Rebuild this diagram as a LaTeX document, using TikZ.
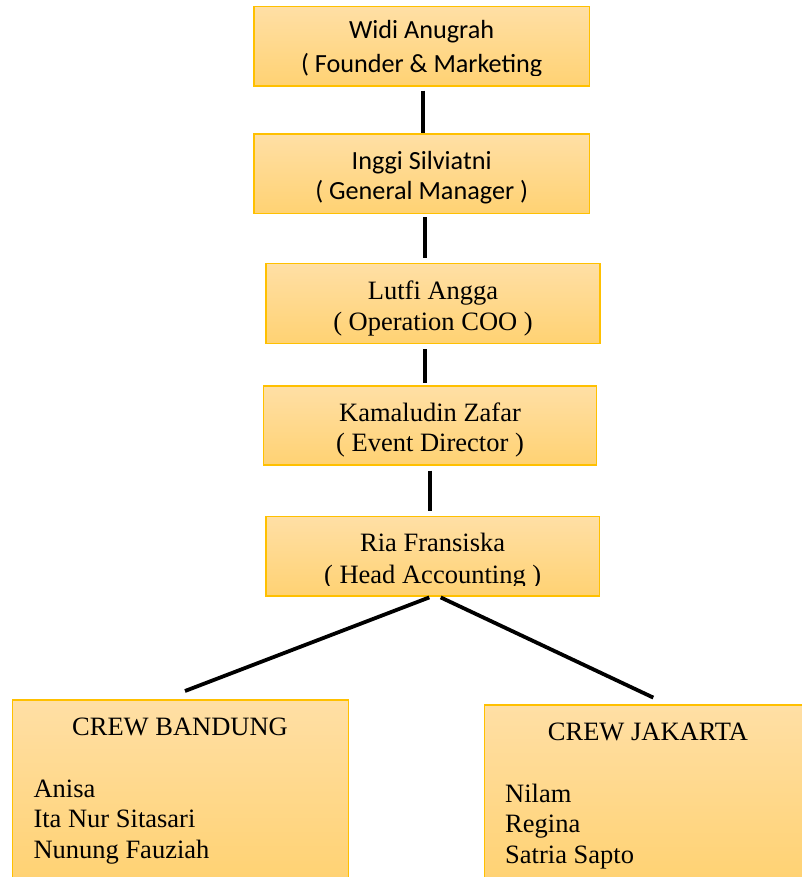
\documentclass[tikz,border=0pt]{standalone}
\usepackage{fontspec}
\setmainfont{Liberation Serif}
\newfontfamily\calib{Carlito}
\definecolor{boxtop}{RGB}{255,223,165}
\definecolor{boxbot}{RGB}{255,210,115}
\definecolor{boxline}{RGB}{255,192,0}
\tikzset{
  orgbox/.style={draw=boxline, line width=1.4pt, top color=boxtop, bottom color=boxbot, inner sep=0pt},
  conn/.style={line width=3.8pt, black},
  txt/.style={inner sep=0pt, anchor=base, font=\fontsize{26.5}{31}\selectfont},
  ctxt/.style={inner sep=0pt, anchor=base, font=\calib\fontsize{26.2}{31}\selectfont},
  ltxt/.style={inner sep=0pt, anchor=base west, font=\fontsize{26.5}{31}\selectfont}
}
\begin{document}
\begin{tikzpicture}[x=1pt,y=1pt]
\useasboundingbox (0,0) rectangle (801,-877);
\fill[white] (0,0) rectangle (801,-877);
% boxes
\node[orgbox, minimum width=335.3pt, minimum height=79.3pt] (b1) at (421.65,-46.35) {};
\node[orgbox, minimum width=335.3pt, minimum height=79.3pt] (b2) at (421.65,-173.65) {};
\node[orgbox, minimum width=334pt, minimum height=80pt] (b3) at (433,-303.3) {};
\node[orgbox, minimum width=333.4pt, minimum height=79pt] (b4) at (430,-425.5) {};
\node[orgbox, minimum width=333.3pt, minimum height=79.3pt] (b5) at (432.65,-556.35) {};
\node[orgbox, minimum width=335.6pt, minimum height=180pt] (bdg) at (180.5,-790) {};
\node[orgbox, minimum width=320.7pt, minimum height=175pt] (jkt) at (644.65,-792.5) {};
% texts
\begin{scope}
\clip (254,-6.7) rectangle (589.3,-75.5);
\node[ctxt] (t1a) at (421.65,-39) {Widi Anugrah};
\node[ctxt] (t1b) at (421.65,-73) {( Founder \& Marketing};
\end{scope}
\begin{scope}
\clip (254,-134) rectangle (589.3,-203.3);
\node[ctxt] (t2a) at (421.65,-170) {Inggi Silviatni};
\node[ctxt] (t2b) at (421.65,-200) {( General Manager )};
\end{scope}
\node[txt] (t3a) at (433,-299.3) {Lutfi Angga};
\node[txt] (t3b) at (433,-330) {( Operation COO )};
\node[txt] (t4a) at (430,-421.7) {Kamaludin Zafar};
\node[txt] (t4b) at (430,-451.7) {( Event Director )};
\begin{scope}
\clip (266,-516.7) rectangle (599.3,-585);
\node[txt] (t5a) at (432.65,-551.7) {Ria Fransiska};
\node[txt] (t5b) at (432.65,-583) {( Head Accounting )};
\end{scope}
\node[txt] (tb0) at (180,-735.7) {CREW BANDUNG};
\node[ltxt] (tb1) at (33.3,-797) {Anisa};
\node[ltxt] (tb2) at (33.3,-827) {Ita Nur Sitasari};
\node[ltxt] (tb3) at (33.3,-858) {Nunung Fauziah};
\node[txt] (tj0) at (648,-740.7) {CREW JAKARTA};
\node[ltxt] (tj1) at (505,-802) {Nilam};
\node[ltxt] (tj2) at (505,-832) {Regina};
\node[ltxt] (tj3) at (505,-863) {Satria Sapto};
% connectors
\draw[conn] ([shift={(1.05,-4)}]b1.south) -- ([shift={(1.05,0.7)}]b2.north);
\draw[conn] ([shift={(3.05,-3.4)}]b2.south) -- ([shift={(-8.3,5)}]b3.north);
\draw[conn] ([shift={(-8,-5)}]b3.south) -- ([shift={(-5,2.7)}]b4.north);
\draw[conn] ([shift={(0,-5)}]b4.south) -- ([shift={(-2.65,5)}]b5.north);
\draw[conn] ([shift={(-3.35,-0.7)}]b5.south) -- ([shift={(4.5,8.3)}]bdg.north);
\draw[conn] ([shift={(8.05,-0.7)}]b5.south) -- ([shift={(8.65,6.7)}]jkt.north);
\end{tikzpicture}
\end{document}
